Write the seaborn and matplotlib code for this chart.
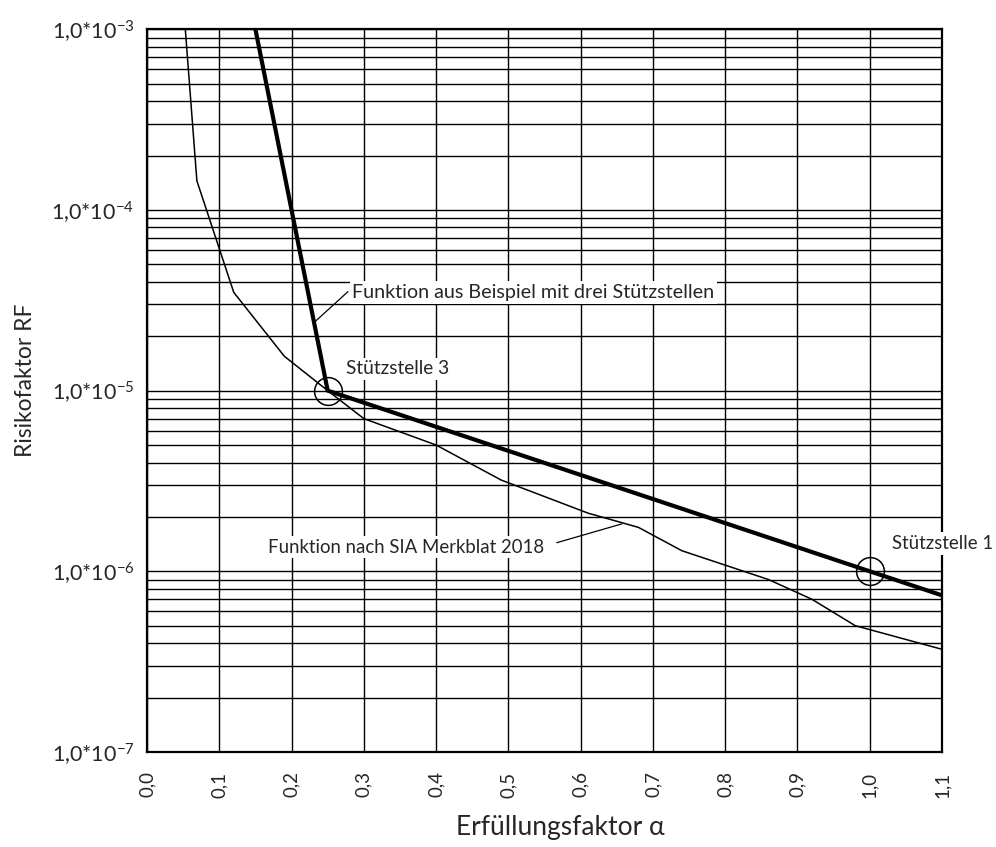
"""Risikofaktor vs Erfüllungsfaktor - log chart"""
import numpy as np
import pandas as pd
import matplotlib
matplotlib.use('Agg')
import matplotlib.pyplot as plt
import seaborn as sns
from matplotlib.ticker import LogLocator, NullFormatter

# Data
sia_alpha = [0.053, 0.069, 0.12, 0.19, 0.25, 0.30, 0.40, 0.49, 0.61, 0.68,
             0.74, 0.86, 0.92, 0.98, 1.10]
sia_rf = [1.0e-3, 1.45e-4, 3.5e-5, 1.55e-5, 1.0e-5, 7.0e-6, 5.0e-6, 3.2e-6,
          2.1e-6, 1.75e-6, 1.3e-6, 9.0e-7, 7.0e-7, 5.0e-7, 3.7e-7]
bsp_alpha = [0.15, 0.25, 1.0, 1.1]
bsp_rf = [1.0e-3, 1.0e-5, 1.0e-6, 7.36e-7]
stuetz_alpha = [0.25, 1.0]
stuetz_rf = [1.0e-5, 1.0e-6]

x_ticks = [0.0, 0.1, 0.2, 0.3, 0.4, 0.5, 0.6, 0.7, 0.8, 0.9, 1.0, 1.1]
x_tick_labels = ['0,0', '0,1', '0,2', '0,3', '0,4', '0,5', '0,6', '0,7',
                 '0,8', '0,9', '1,0', '1,1']
y_ticks = [1e-7, 1e-6, 1e-5, 1e-4, 1e-3]
y_tick_labels = [r'1,0*10$^{\mathregular{-7}}$', r'1,0*10$^{\mathregular{-6}}$',
                 r'1,0*10$^{\mathregular{-5}}$', r'1,0*10$^{\mathregular{-4}}$',
                 r'1,0*10$^{\mathregular{-3}}$']

sia = pd.DataFrame({'alpha': sia_alpha, 'RF': sia_rf})
bsp = pd.DataFrame({'alpha': bsp_alpha, 'RF': bsp_rf})

sns.set_style('white')
plt.rcParams['font.family'] = ['Lato', 'DejaVu Sans']
plt.rcParams['mathtext.default'] = 'regular'

fig = plt.figure(figsize=(9.96, 8.47), dpi=100)
ax = fig.add_axes([0.1476, 0.1122, 0.7982, 0.8532])

sns.lineplot(data=sia, x='alpha', y='RF', color='black', lw=1.1, ax=ax)
sns.lineplot(data=bsp, x='alpha', y='RF', color='black', lw=3.0, ax=ax)
ax.plot(stuetz_alpha, stuetz_rf, 'o', ms=20, mfc='none', mec='black', mew=1.1)

ax.set_yscale('log')
ax.set_xlim(0, 1.1)
ax.set_ylim(1e-7, 1e-3)
ax.set_xticks(x_ticks)
ax.set_xticklabels(x_tick_labels, rotation=90, fontsize=13.5)
ax.set_yticks(y_ticks)
ax.set_yticklabels(y_tick_labels, fontsize=15.5)
ax.yaxis.set_minor_locator(LogLocator(base=10, subs=np.arange(2, 10)))
ax.yaxis.set_minor_formatter(NullFormatter())
ax.tick_params(axis='both', which='both', length=0)
ax.tick_params(axis='x', pad=14)
ax.tick_params(axis='y', pad=9)

ax.grid(True, which='both', axis='y', color='black', lw=1.0)
ax.grid(True, which='major', axis='x', color='black', lw=1.0)
ax.set_axisbelow(True)
for s in ax.spines.values():
    s.set_color('black')
    s.set_linewidth(1.6)

ax.set_xlabel('Erfüllungsfaktor α', fontsize=19)
ax.set_ylabel('Risikofaktor RF', fontsize=16.5)
ax.xaxis.set_label_coords(0.52, -0.087)
ax.yaxis.set_label_coords(-0.14, 0.515)

# Annotations
box = dict(facecolor='white', edgecolor='none', pad=2)
ax.text(0.284, 3.5e-5, 'Funktion aus Beispiel mit drei Stützstellen',
        fontsize=14.2, ha='left', va='center', bbox=box, zorder=4)
ax.annotate('', xy=(0.2325, 2.41e-5), xytext=(0.278, 3.53e-5),
            arrowprops=dict(arrowstyle='-', lw=0.9, color='black',
                            shrinkA=0, shrinkB=0))
ax.text(0.275, 1.32e-5, 'Stützstelle 3', fontsize=13.8, ha='left', va='center',
        bbox=box, zorder=4)
ax.text(0.549, 1.36e-6, 'Funktion nach SIA Merkblat 2018', fontsize=13.4,
        ha='right', va='center', bbox=box, zorder=4)
ax.annotate('', xy=(0.657, 1.83e-6), xytext=(0.567, 1.44e-6),
            arrowprops=dict(arrowstyle='-', lw=0.9, color='black',
                            shrinkA=0, shrinkB=0))
ax.text(1.031, 1.43e-6, 'Stützstelle 1', fontsize=13.4, ha='left', va='center',
        bbox=box, zorder=4)

plt.savefig('out.png', dpi=100)
